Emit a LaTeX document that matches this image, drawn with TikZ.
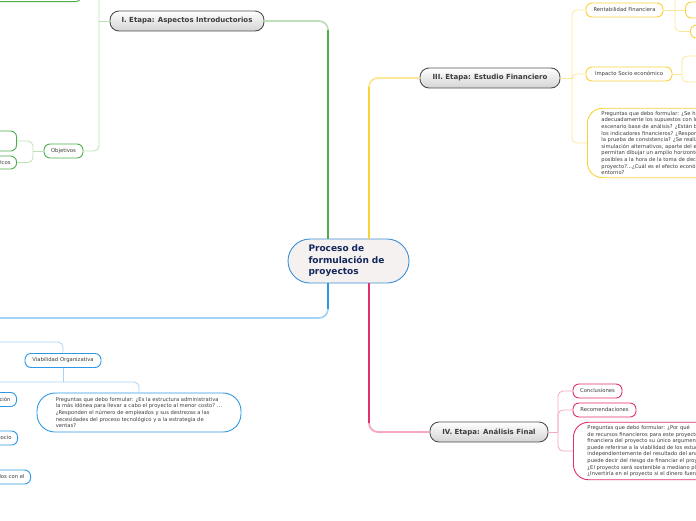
\documentclass[tikz,border=0pt]{standalone}
\usepackage{fontspec}
\setmainfont{DejaVu Sans}
\usepackage{xcolor}
\definecolor{cGreen}{HTML}{4FAE4C}
\definecolor{cGreenLt}{HTML}{BCE0B7}
\definecolor{cYellow}{HTML}{F9D23A}
\definecolor{cYellowLt}{HTML}{FCE69A}
\definecolor{cBlue}{HTML}{2E98E4}
\definecolor{cBlueLt}{HTML}{A6D4F6}
\definecolor{cPink}{HTML}{E2306F}
\definecolor{cPinkLt}{HTML}{F4A6C2}
\definecolor{cRootLine}{HTML}{3D8ED5}
\definecolor{cRootFill}{HTML}{F6F1F1}
\definecolor{cRootText}{HTML}{13285A}
\definecolor{cStage}{HTML}{505050}
\definecolor{cText}{HTML}{3C3C3C}
\usepackage{tikz}
\usetikzlibrary{positioning,calc}
\tikzset{
  node-root/.style={draw=cRootLine,line width=0.9pt,fill=cRootFill,
    rounded corners=22pt,minimum width=121pt,minimum height=44pt,
    inner xsep=0pt,text width=80pt,align=left,text=cRootText,
    font=\fontsize{9}{11.5}\selectfont\bfseries},
  node-stage/.style={draw=cStage,line width=0.9pt,top color=white,
    bottom color=black!17,rounded corners=9pt,minimum height=20pt,
    inner ysep=0pt,text=cText,font=\fontsize{7}{8}\selectfont\bfseries},
  node-leaf/.style={line width=0.9pt,fill=white,rounded corners=6pt,
    minimum height=14pt,inner xsep=6pt,inner ysep=0pt,text=cText,
    font=\fontsize{5.3}{6.5}\selectfont},
  node-note/.style={line width=0.9pt,fill=white,rounded corners=16pt,
    inner xsep=14pt,inner ysep=3pt,align=left,text=cText,
    font=\fontsize{5.2}{6.6}\selectfont},
  link-main/.style={line width=1.8pt,rounded corners=9pt},
  link-sub/.style={line width=0.8pt,rounded corners=5pt},
}

\begin{document}
\begin{tikzpicture}[x=1pt,y=-1pt]
  \useasboundingbox (0,0) rectangle (696,520);
  \clip (0,0) rectangle (696,520);

  % nodo central y etapas
  \node[node-root] (root) at (348.5,261) {Proceso de\\formulación de\\proyectos};
  \node[node-stage,minimum width=154pt] (etapaI) at (187,21) {I. Etapa: Aspectos Introductorios};
  \node[node-stage,minimum width=140pt] (etapaIII) at (490,78) {III. Etapa: Estudio Financiero};
  \node[node-stage,minimum width=118pt] (etapaIV) at (489,432) {IV. Etapa: Análisis Final};
  \coordinate (etapaII) at (-60,318);

  \coordinate (rootNG) at ([xshift=-20.5pt]root.north);
  \coordinate (rootNY) at ([xshift=20.5pt]root.north);
  \coordinate (rootSB) at ([xshift=-20.5pt]root.south);
  \coordinate (rootSR) at ([xshift=20.5pt]root.south);

  \draw[link-main,cGreenLt] (rootNG) |- (etapaI.east);
  \draw[link-main,cGreen] (rootNG) -- ($(rootNG |- etapaI.east)+(0,9)$);
  \draw[link-main,cYellowLt] (rootNY) |- (etapaIII.west);
  \draw[link-main,cYellow] (rootNY) -- ($(rootNY |- etapaIII.west)+(0,9)$);
  \draw[link-main,cBlueLt] (rootSB) |- (etapaII);
  \draw[link-main,cBlue] (rootSB) -- ($(rootSB |- etapaII)+(0,-9)$);
  \draw[link-main,cPinkLt] (rootSR) |- (etapaIV.west);
  \draw[link-main,cPink] (rootSR) -- ($(rootSR |- etapaIV.west)+(0,-9)$);

  % I. Etapa
  \node[node-leaf,draw=cGreen,minimum width=39pt] (objetivos) at (63.5,151) {Objetivos};
  \node[node-leaf,draw=cGreen,minimum width=90pt,minimum height=24pt,anchor=south east] (antecedentes) at (82,2) {};
  \node[node-leaf,draw=cGreen,minimum width=80pt,minimum height=20pt,anchor=east] (objGeneral) at (17,141) {};
  \node[node-leaf,draw=cGreen,minimum height=13pt,anchor=east] (objEspecificos) at (17,162.5) {Objetivos Específicos};
  \coordinate (jI) at (99,21);
  \coordinate (jObj) at (33,151);
  \draw[link-sub,cGreenLt] (etapaI.west) -- (jI);
  \draw[link-sub,cGreenLt] (jI) |- (antecedentes.east);
  \draw[link-sub,cGreenLt] (jI) |- (objetivos.east);
  \draw[link-sub,cGreenLt] (objetivos.west) -- (jObj);
  \draw[link-sub,cGreenLt] (jObj) |- (objGeneral.east);
  \draw[link-sub,cGreenLt] (jObj) |- (objEspecificos.east);

  % II. Etapa
  \coordinate (estudioOrg) at (-30,342);
  \coordinate (jViabL) at (-30,382);
  \node[node-leaf,draw=cBlue,minimum width=76pt] (viabilidad) at (63,360.5) {Viabilidad Organizativa};
  \node[node-note,draw=cBlue,rounded corners=18pt,minimum width=204pt,minimum height=39pt] (pregBlue) at (139,412.5)
    {Preguntas que debo formular: ¿Es la estructura administrativa\\
     la más idónea para llevar a cabo el proyecto al menor costo? ...\\
     ¿Responden el número de empleados y sus destrezas a las\\
     necesidades del proceso tecnológico y a la estrategia de\\
     ventas?};
  \node[node-leaf,draw=cBlue,anchor=east] (organizacion) at (17,399.5) {Tipo de organización};
  \node[node-leaf,draw=cBlue,anchor=east] (negocio) at (18,438) {Modelo de negocio};
  \node[node-leaf,draw=cBlue,anchor=east] (acuerdos) at (31,477) {Acuerdos con el};
  \coordinate (jViab) at (63,382);
  \draw[link-sub,cBlueLt] (estudioOrg) -| (viabilidad.north);
  \draw[link-sub,cBlueLt] (viabilidad.south) -- (jViab);
  \draw[link-sub,cBlueLt] (jViabL) -- (jViab) -| (pregBlue.north);

  % III. Etapa
  \node[node-leaf,draw=cYellow,minimum width=77pt] (rentabilidad) at (624.5,10) {Rentabilidad Financiera};
  \node[node-leaf,draw=cYellow,minimum width=86pt] (impacto) at (629,74) {Impacto Socio económico};
  \node[node-note,draw=cYellow,rounded corners=15pt,anchor=west] (pregYellow) at (587,143)
    {Preguntas que debo formular: ¿Se han estimado\\
     adecuadamente los supuestos con los que se construye el\\
     escenario base de análisis? ¿Están bien calculados\\
     los indicadores financieros? ¿Responden los resultados a\\
     la prueba de consistencia? ¿Se realizaron escenarios de\\
     simulación alternativos, aparte del escenario base, que\\
     permitan dibujar un amplio horizonte de situaciones\\
     posibles a la hora de la toma de decisiones sobre el\\
     proyecto?...¿Cuál es el efecto económico del proyecto en su\\
     entorno?};
  \node[node-leaf,draw=cYellow,minimum width=40pt,minimum height=16pt,anchor=west] (margen) at (685,10) {};
  \node[node-leaf,draw=cYellow,minimum width=40pt,minimum height=13pt,anchor=west] (indicadores) at (690,31.5) {};
  \coordinate (jIII) at (572,78);
  \coordinate (jRent) at (675,10);
  \coordinate (rentUp) at (720,-20);
  \coordinate (jImp) at (682,74);
  \coordinate (impUp) at (720,56);
  \coordinate (impDown) at (720,82);
  \draw[link-sub,cYellowLt] (etapaIII.east) -- (jIII);
  \draw[link-sub,cYellowLt] (jIII) |- (rentabilidad.west);
  \draw[link-sub,cYellowLt] (jIII) |- (impacto.west);
  \draw[link-sub,cYellowLt] (jIII) |- (pregYellow.west);
  \draw[link-sub,cYellowLt] (rentabilidad.east) -- (margen.west);
  \draw[link-sub,cYellowLt] (jRent) |- (indicadores.west);
  \draw[link-sub,cYellowLt] (jRent) |- (rentUp);
  \draw[link-sub,cYellowLt] (impacto.east) -- (jImp);
  \draw[link-sub,cYellowLt] (jImp) |- (impUp);
  \draw[link-sub,cYellowLt] (jImp) |- (impDown);

  % IV. Etapa
  \node[node-leaf,draw=cPink,minimum width=49pt] (conclusiones) at (597.5,391) {Conclusiones};
  \node[node-leaf,draw=cPink,minimum width=63pt] (recomendaciones) at (604.5,410) {Recomendaciones};
  \node[node-note,draw=cPink,rounded corners=15pt,anchor=west] (pregRed) at (573,451)
    {Preguntas que debo formular: ¿Por qué\\
     de recursos financieros para este proyecto?\\
     financiera del proyecto su único argumento\\
     puede referirse a la viabilidad de los estudios\\
     independientemente del resultado del análisis\\
     puede decir del riesgo de financiar el proyecto?\\
     ¿El proyecto será sostenible a mediano plazo?\\
     ¿Invertiría en el proyecto si el dinero fuera suyo?};
  \coordinate (jIV) at (558,432);
  \draw[link-sub,cPinkLt] (etapaIV.east) -- (jIV);
  \draw[link-sub,cPinkLt] (jIV) |- (conclusiones.west);
  \draw[link-sub,cPinkLt] (jIV) |- (recomendaciones.west);
  \draw[link-sub,cPinkLt] (jIV) |- (pregRed.west);
\end{tikzpicture}
\end{document}
